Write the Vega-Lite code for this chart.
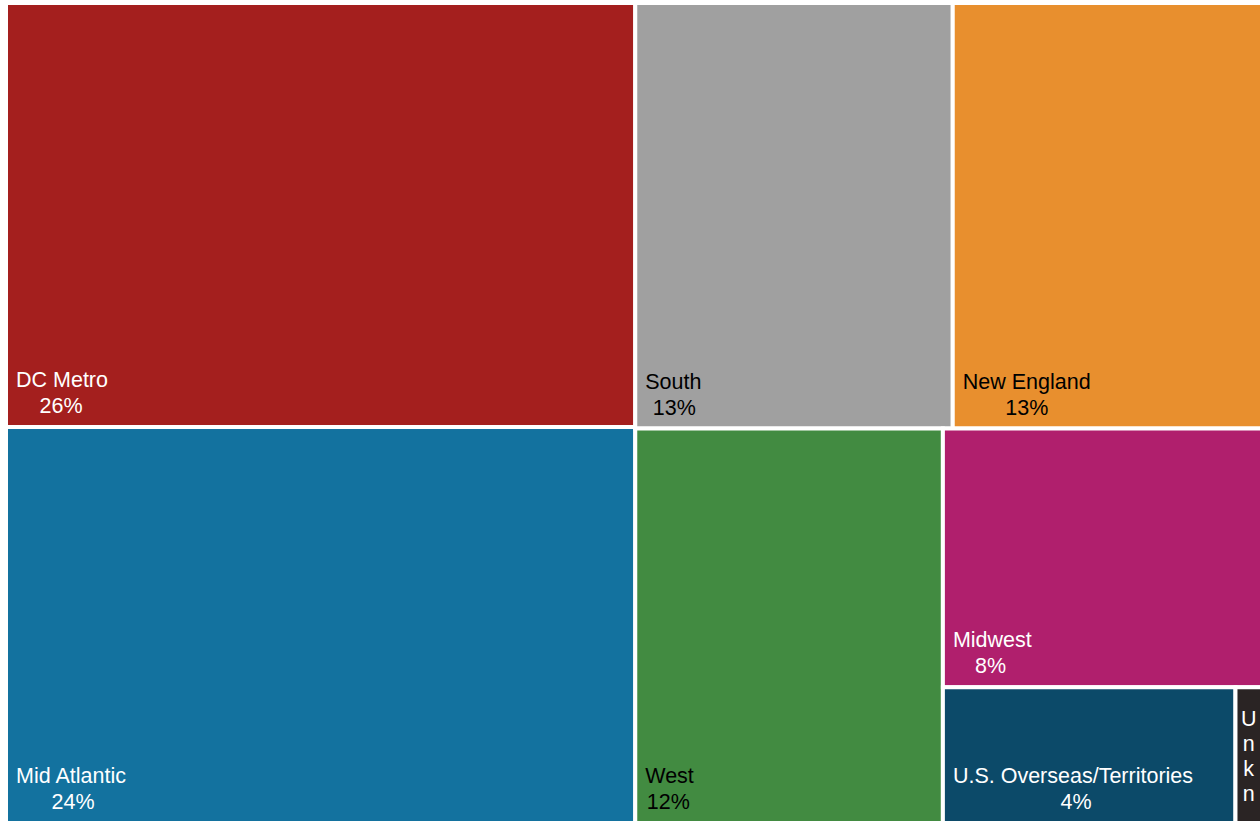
{
  "$schema": "https://vega.github.io/schema/vega-lite/v6.json",
  "width": 1256,
  "height": 820,
  "autosize": {"type": "none"},
  "padding": {"left": 6, "top": 3, "right": 0, "bottom": 0},
  "background": "white",
  "config": {"view": {"stroke": null}, "text": {"font": "Liberation Sans"}},
  "data": {
    "values": [
      {"region": "DC Metro", "value": 0.259, "k1": 1, "k2": 1, "k3": 1, "k4": 1, "k5": 1},
      {"region": "Mid Atlantic", "value": 0.242, "k1": 1, "k2": 2, "k3": 1, "k4": 1, "k5": 1},
      {"region": "South", "value": 0.1312, "k1": 2, "k2": 1, "k3": 1, "k4": 1, "k5": 1},
      {"region": "New England", "value": 0.1278, "k1": 2, "k2": 1, "k3": 2, "k4": 1, "k5": 1},
      {"region": "West", "value": 0.1178, "k1": 2, "k2": 2, "k3": 1, "k4": 1, "k5": 1},
      {"region": "Midwest", "value": 0.0801, "k1": 2, "k2": 2, "k3": 2, "k4": 1, "k5": 1},
      {"region": "U.S. Overseas/Territories", "value": 0.0386, "k1": 2, "k2": 2, "k3": 2, "k4": 2, "k5": 1},
      {"region": "Unknown", "value": 0.0035, "k1": 2, "k2": 2, "k3": 2, "k4": 2, "k5": 2}
    ]
  },
  "transform": [
    {"joinaggregate": [{"op": "sum", "field": "value", "as": "t1"}]},
    {"joinaggregate": [{"op": "sum", "field": "value", "as": "s1"}], "groupby": ["k1"]},
    {"window": [{"op": "sum", "field": "value", "as": "c1"}], "sort": [{"field": "k1", "order": "ascending"}], "frame": [null, 0], "ignorePeers": false},
    {"calculate": "(datum.c1 - datum.s1) / datum.t1", "as": "xa"},
    {"calculate": "datum.c1 / datum.t1", "as": "xb"},

    {"joinaggregate": [{"op": "sum", "field": "value", "as": "t2"}], "groupby": ["k1"]},
    {"joinaggregate": [{"op": "sum", "field": "value", "as": "s2"}], "groupby": ["k1", "k2"]},
    {"window": [{"op": "sum", "field": "value", "as": "c2"}], "groupby": ["k1"], "sort": [{"field": "k2", "order": "ascending"}], "frame": [null, 0], "ignorePeers": false},
    {"calculate": "(datum.c2 - datum.s2) / datum.t2", "as": "ya"},
    {"calculate": "datum.c2 / datum.t2", "as": "yb"},

    {"joinaggregate": [{"op": "sum", "field": "value", "as": "t3"}], "groupby": ["k1", "k2"]},
    {"joinaggregate": [{"op": "sum", "field": "value", "as": "s3"}], "groupby": ["k1", "k2", "k3"]},
    {"window": [{"op": "sum", "field": "value", "as": "c3"}], "groupby": ["k1", "k2"], "sort": [{"field": "k3", "order": "ascending"}], "frame": [null, 0], "ignorePeers": false},
    {"calculate": "datum.xa + (datum.xb - datum.xa) * (datum.c3 - datum.s3) / datum.t3", "as": "xc"},
    {"calculate": "datum.xa + (datum.xb - datum.xa) * datum.c3 / datum.t3", "as": "xd"},

    {"joinaggregate": [{"op": "sum", "field": "value", "as": "t4"}], "groupby": ["k1", "k2", "k3"]},
    {"joinaggregate": [{"op": "sum", "field": "value", "as": "s4"}], "groupby": ["k1", "k2", "k3", "k4"]},
    {"window": [{"op": "sum", "field": "value", "as": "c4"}], "groupby": ["k1", "k2", "k3"], "sort": [{"field": "k4", "order": "ascending"}], "frame": [null, 0], "ignorePeers": false},
    {"calculate": "datum.ya + (datum.yb - datum.ya) * (datum.c4 - datum.s4) / datum.t4", "as": "yc"},
    {"calculate": "datum.ya + (datum.yb - datum.ya) * datum.c4 / datum.t4", "as": "yd"},

    {"joinaggregate": [{"op": "sum", "field": "value", "as": "t5"}], "groupby": ["k1", "k2", "k3", "k4"]},
    {"joinaggregate": [{"op": "sum", "field": "value", "as": "s5"}], "groupby": ["k1", "k2", "k3", "k4", "k5"]},
    {"window": [{"op": "sum", "field": "value", "as": "c5"}], "groupby": ["k1", "k2", "k3", "k4"], "sort": [{"field": "k5", "order": "ascending"}], "frame": [null, 0], "ignorePeers": false},
    {"calculate": "datum.xc + (datum.xd - datum.xc) * (datum.c5 - datum.s5) / datum.t5", "as": "xe"},
    {"calculate": "datum.xc + (datum.xd - datum.xc) * datum.c5 / datum.t5", "as": "xf"}
  ],
  "layer": [
    {
      "mark": {"type": "rect", "stroke": "white", "strokeWidth": 4},
      "encoding": {
        "x": {"field": "xe", "type": "quantitative", "scale": {"domain": [0, 1], "nice": false, "zero": false}, "axis": null},
        "x2": {"field": "xf"},
        "y": {"field": "yc", "type": "quantitative", "scale": {"domain": [0, 1], "nice": false, "zero": false, "reverse": true}, "axis": null},
        "y2": {"field": "yd"},
        "color": {
          "field": "region",
          "type": "nominal",
          "legend": null,
          "scale": {
            "domain": ["DC Metro", "Mid Atlantic", "South", "New England", "West", "Midwest", "U.S. Overseas/Territories", "Unknown"],
            "range": ["#A41F1E", "#13729F", "#A0A0A0", "#E88F2E", "#428B41", "#B01F6D", "#0C4A69", "#2A2424"]
          }
        },
        "tooltip": [{"field": "region", "type": "nominal"}, {"field": "value", "type": "quantitative", "format": ".1%"}]
      }
    },
    {
      "transform": [{"filter": "datum.region != 'Unknown'"}],
      "mark": {"type": "text", "align": "left", "baseline": "alphabetic", "dx": 10, "dy": -40, "fontSize": 21.5},
      "encoding": {
        "x": {"field": "xe", "type": "quantitative"},
        "y": {"field": "yd", "type": "quantitative"},
        "text": {"field": "region", "type": "nominal"},
        "color": {"condition": {"test": "indexof(['South', 'New England', 'West'], datum.region) >= 0", "value": "#000000"}, "value": "#FFFFFF"}
      }
    },
    {
      "transform": [
        {"filter": "datum.region != 'Unknown'"},
        {"calculate": "length(datum.region) - length(replace(datum.region, regexp('[iltfrj ./]', 'g'), ''))", "as": "narrow"},
        {"calculate": "length(datum.region) - length(replace(datum.region, regexp('[A-Z]', 'g'), ''))", "as": "upper"},
        {"calculate": "datum.xe + ((12 * length(datum.region) - 6.5 * datum.narrow + 4.5 * datum.upper) / 2) / 1256", "as": "pcx"}
      ],
      "mark": {"type": "text", "align": "center", "baseline": "alphabetic", "dx": 10, "dy": -14, "fontSize": 21.5},
      "encoding": {
        "x": {"field": "pcx", "type": "quantitative"},
        "y": {"field": "yd", "type": "quantitative"},
        "text": {"field": "value", "type": "quantitative", "format": ".0%"},
        "color": {"condition": {"test": "indexof(['South', 'New England', 'West'], datum.region) >= 0", "value": "#000000"}, "value": "#FFFFFF"}
      }
    },
    {
      "transform": [
        {"filter": "datum.region == 'Unknown'"},
        {"calculate": "(datum.xe + datum.xf) / 2", "as": "cx"},
        {"calculate": "split(substring(datum.region, 0, 4), '')", "as": "chars"}
      ],
      "mark": {"type": "text", "align": "center", "baseline": "alphabetic", "dy": 39, "fontSize": 21.5, "lineHeight": 25, "color": "#FFFFFF"},
      "encoding": {
        "x": {"field": "cx", "type": "quantitative"},
        "y": {"field": "yc", "type": "quantitative"},
        "text": {"field": "chars", "type": "nominal"}
      }
    }
  ]
}
